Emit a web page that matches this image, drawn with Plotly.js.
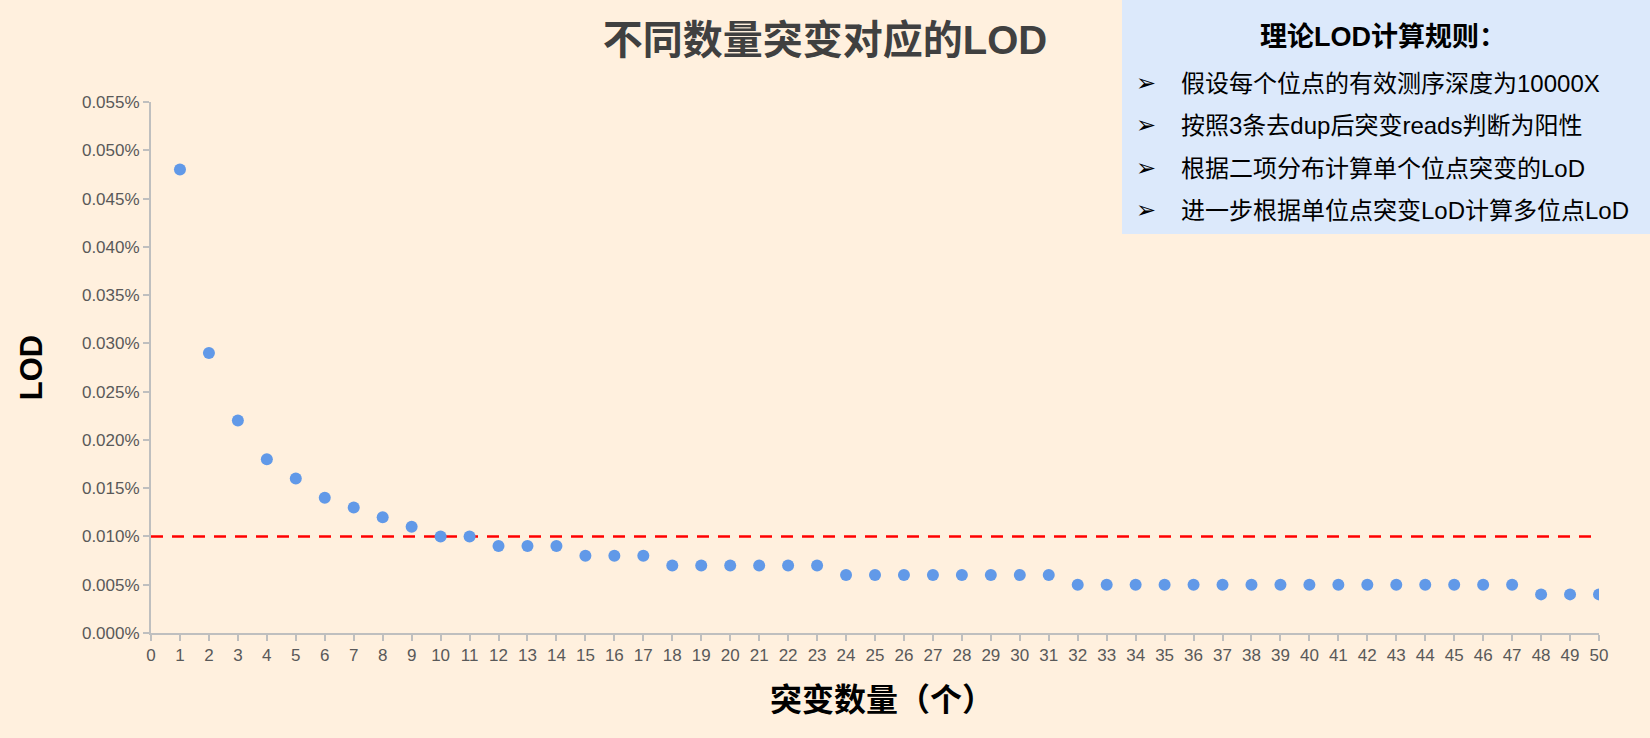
<!DOCTYPE html>
<html>
<head>
<meta charset="utf-8">
<script src="https://cdn.plot.ly/plotly-3.0.1.min.js"></script>
<style>html,body{margin:0;padding:0;background:#FFF0DE;}#chart{width:1650px;height:738px;}</style>
</head>
<body>
<div id="chart"></div>
<script>
const mutationCounts = [1,2,3,4,5,6,7,8,9,10,11,12,13,14,15,16,17,18,19,20,21,22,23,24,25,26,27,28,29,30,31,32,33,34,35,36,37,38,39,40,41,42,43,44,45,46,47,48,49,50];
const lodPercent = [0.048,0.029,0.022,0.018,0.016,0.014,0.013,0.012,0.011,0.010,0.010,0.009,0.009,0.009,0.008,0.008,0.008,0.007,0.007,0.007,0.007,0.007,0.007,0.006,0.006,0.006,0.006,0.006,0.006,0.006,0.006,0.005,0.005,0.005,0.005,0.005,0.005,0.005,0.005,0.005,0.005,0.005,0.005,0.005,0.005,0.005,0.005,0.004,0.004,0.004];
const thresholdPercent = 0.010;
const xTickVals = Array.from({length: 51}, (_, i) => i);
const titleText = '不同数量突变对应的LOD';
const xTitle = '突变数量（个）';
const yTitle = 'LOD';
const ruleHeading = '理论LOD计算规则：';
const ruleLines = ['假设每个位点的有效测序深度为10000X','按照3条去dup后突变reads判断为阳性','根据二项分布计算单个位点突变的LoD','进一步根据单位点突变LoD计算多位点LoD'];

const lodFrac = lodPercent.map(v => v / 100);
const FONT = 'Liberation Sans, Arial, Noto Sans CJK SC, sans-serif';

// plot area pixels
const L = 151, R = 1599, T = 102, B = 633;
const px = x => (x - L) / (R - L);
const py = y => (B - y) / (B - T);

const traces = [
  {
    x: [0, 50], y: [thresholdPercent / 100, thresholdPercent / 100],
    mode: 'lines', line: {color: '#FF0000', width: 2.5, dash: '12px,9px'},
    hoverinfo: 'skip', showlegend: false
  },
  {
    x: mutationCounts, y: lodFrac, mode: 'markers',
    marker: {color: '#6199E8', size: 12},
    showlegend: false
  }
];

const annotations = [
  {xref: 'paper', yref: 'paper', x: px(1383), y: py(37), text: '<b>' + ruleHeading + '</b>',
   showarrow: false, xanchor: 'center', yanchor: 'middle', font: {family: FONT, size: 27, color: '#000000'}},
  {xref: 'paper', yref: 'paper', x: px(882), y: py(700), text: '<b>' + xTitle + '</b>',
   showarrow: false, xanchor: 'center', yanchor: 'middle', font: {family: FONT, size: 32, color: '#000000'}}
];
const rowY = [83, 125, 168, 210];
ruleLines.forEach((t, i) => {
  annotations.push({xref: 'paper', yref: 'paper', x: px(1134), y: py(rowY[i]), text: '➢',
    showarrow: false, xanchor: 'left', yanchor: 'middle', font: {family: 'DejaVu Sans', size: 24, color: '#000000'}});
  annotations.push({xref: 'paper', yref: 'paper', x: px(1179), y: py(rowY[i]), text: t,
    showarrow: false, xanchor: 'left', yanchor: 'middle', font: {family: FONT, size: 24, color: '#000000'}});
});

const layout = {
  width: 1650, height: 738,
  paper_bgcolor: '#FFF0DE', plot_bgcolor: '#FFF0DE',
  margin: {l: L, r: 1650 - R, t: T, b: 738 - B},
  title: {text: '<b>' + titleText + '</b>', x: px(825), xref: 'paper', xanchor: 'center',
          y: 1 - 40 / 738, yanchor: 'middle', font: {family: FONT, size: 40, color: '#404040'}},
  xaxis: {
    range: [0, 50], tickvals: xTickVals, ticktext: xTickVals.map(String),
    showgrid: false, zeroline: false, showline: true, linecolor: '#BFBFBF', linewidth: 2,
    ticks: 'outside', ticklen: 6, tickcolor: '#BFBFBF', tickwidth: 2,
    tickfont: {family: FONT, size: 17, color: '#595959'}
  },
  yaxis: {
    range: [0, 0.00055], dtick: 0.00005, tickformat: '.3%',
    showgrid: false, zeroline: false, showline: true, linecolor: '#BFBFBF', linewidth: 2,
    ticks: 'outside', ticklen: 6, tickcolor: '#BFBFBF', tickwidth: 2,
    tickfont: {family: FONT, size: 17, color: '#595959'},
    title: {text: '<b>' + yTitle + '</b>', font: {family: FONT, size: 31, color: '#000000'}, standoff: 30}
  },
  shapes: [
    {type: 'rect', xref: 'paper', yref: 'paper', x0: px(1122), x1: px(1660), y0: py(234), y1: py(-10),
     fillcolor: '#DCE9FB', line: {width: 0}, layer: 'above'}
  ],
  annotations: annotations
};

Plotly.newPlot('chart', traces, layout, {displayModeBar: false, staticPlot: true});
</script>
</body>
</html>
